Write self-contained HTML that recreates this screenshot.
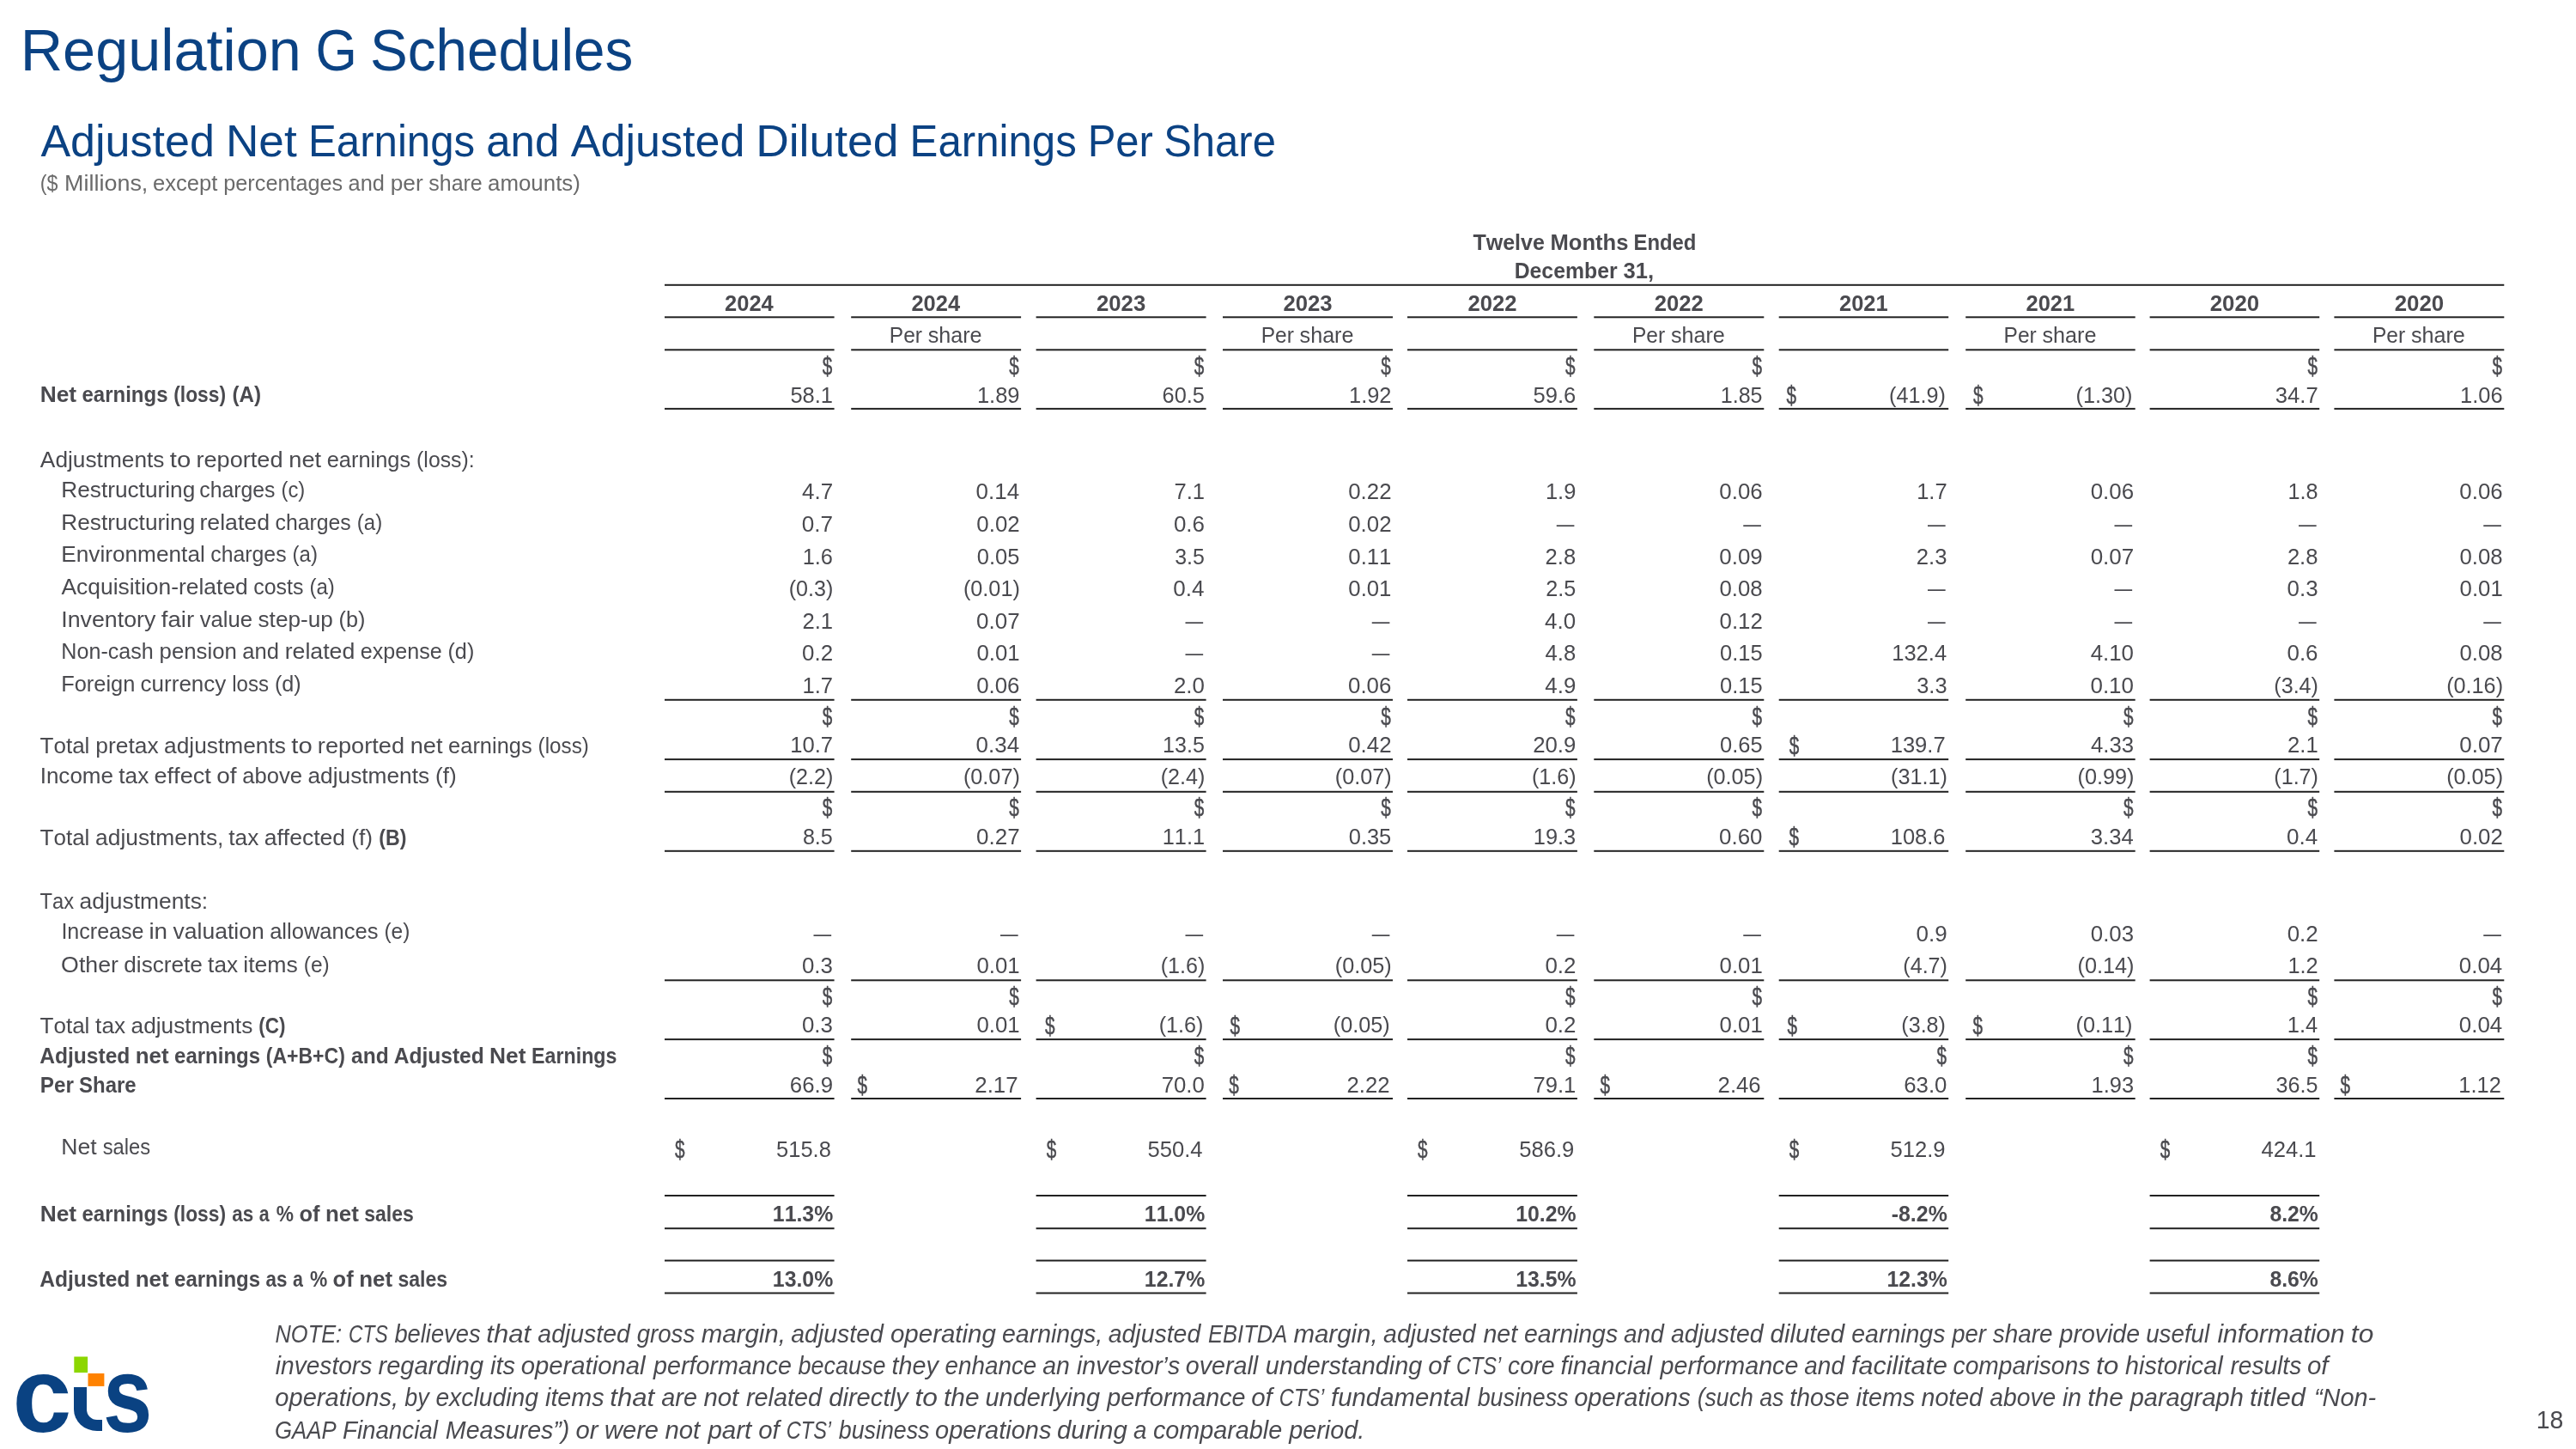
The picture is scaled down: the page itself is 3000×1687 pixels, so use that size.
<!DOCTYPE html>
<html><head><meta charset="utf-8"><title>Regulation G Schedules</title>
<style>
html,body{margin:0;padding:0;background:#fff;}
body{width:3000px;height:1687px;overflow:hidden;position:relative;}
svg{display:block;will-change:transform;}
svg text{font-family:"Liberation Sans",Arial,sans-serif;font-size:26.20px;fill:#4a4a4f;font-kerning:none;white-space:pre;}
</style></head>
<body>
<svg width="3000" height="1687" viewBox="0 0 3000 1687">
<rect width="3000" height="1687" fill="#ffffff"/>
<rect x="774.00" y="330.80" width="2142.30" height="2.00" fill="#222222"/>
<text y="290.70" style="font-weight:bold"><tspan x="1715.42" textLength="83.45" lengthAdjust="spacingAndGlyphs">Twelve</tspan> <tspan x="1805.43" textLength="91.00" lengthAdjust="spacingAndGlyphs">Months</tspan> <tspan x="1902.47" textLength="73.00" lengthAdjust="spacingAndGlyphs">Ended</tspan></text>
<text y="324.20" style="font-weight:bold"><tspan x="1763.67" textLength="119.97" lengthAdjust="spacingAndGlyphs">December</tspan> <tspan x="1890.50" textLength="35.47" lengthAdjust="spacingAndGlyphs">31,</tspan></text>
<text y="361.90" style="font-weight:bold"><tspan x="844.09" textLength="56.67" lengthAdjust="spacingAndGlyphs">2024</tspan></text>
<rect x="774.00" y="368.30" width="197.60" height="2.00" fill="#222222"/>
<rect x="774.00" y="406.30" width="197.60" height="2.00" fill="#222222"/>
<text y="361.90" style="font-weight:bold"><tspan x="1061.44" textLength="56.67" lengthAdjust="spacingAndGlyphs">2024</tspan></text>
<rect x="991.20" y="368.30" width="197.90" height="2.00" fill="#222222"/>
<text y="399.20"><tspan x="1035.79" textLength="38.18" lengthAdjust="spacingAndGlyphs">Per</tspan> <tspan x="1080.73" textLength="62.89" lengthAdjust="spacingAndGlyphs">share</tspan></text>
<rect x="991.20" y="406.30" width="197.90" height="2.00" fill="#222222"/>
<text y="361.90" style="font-weight:bold"><tspan x="1277.07" textLength="57.11" lengthAdjust="spacingAndGlyphs">2023</tspan></text>
<rect x="1206.60" y="368.30" width="198.00" height="2.00" fill="#222222"/>
<rect x="1206.60" y="406.30" width="198.00" height="2.00" fill="#222222"/>
<text y="361.90" style="font-weight:bold"><tspan x="1494.47" textLength="57.11" lengthAdjust="spacingAndGlyphs">2023</tspan></text>
<rect x="1424.00" y="368.30" width="198.00" height="2.00" fill="#222222"/>
<text y="399.20"><tspan x="1468.64" textLength="38.18" lengthAdjust="spacingAndGlyphs">Per</tspan> <tspan x="1513.58" textLength="62.89" lengthAdjust="spacingAndGlyphs">share</tspan></text>
<rect x="1424.00" y="406.30" width="198.00" height="2.00" fill="#222222"/>
<text y="361.90" style="font-weight:bold"><tspan x="1709.51" textLength="57.01" lengthAdjust="spacingAndGlyphs">2022</tspan></text>
<rect x="1639.00" y="368.30" width="197.90" height="2.00" fill="#222222"/>
<rect x="1639.00" y="406.30" width="197.90" height="2.00" fill="#222222"/>
<text y="361.90" style="font-weight:bold"><tspan x="1926.86" textLength="57.01" lengthAdjust="spacingAndGlyphs">2022</tspan></text>
<rect x="1856.30" y="368.30" width="198.00" height="2.00" fill="#222222"/>
<text y="399.20"><tspan x="1900.94" textLength="38.18" lengthAdjust="spacingAndGlyphs">Per</tspan> <tspan x="1945.88" textLength="62.89" lengthAdjust="spacingAndGlyphs">share</tspan></text>
<rect x="1856.30" y="406.30" width="198.00" height="2.00" fill="#222222"/>
<text y="361.90" style="font-weight:bold"><tspan x="2142.06" textLength="56.60" lengthAdjust="spacingAndGlyphs">2021</tspan></text>
<rect x="2071.70" y="368.30" width="197.50" height="2.00" fill="#222222"/>
<rect x="2071.70" y="406.30" width="197.50" height="2.00" fill="#222222"/>
<text y="361.90" style="font-weight:bold"><tspan x="2359.56" textLength="56.60" lengthAdjust="spacingAndGlyphs">2021</tspan></text>
<rect x="2289.20" y="368.30" width="197.50" height="2.00" fill="#222222"/>
<text y="399.20"><tspan x="2333.59" textLength="38.18" lengthAdjust="spacingAndGlyphs">Per</tspan> <tspan x="2378.53" textLength="62.89" lengthAdjust="spacingAndGlyphs">share</tspan></text>
<rect x="2289.20" y="406.30" width="197.50" height="2.00" fill="#222222"/>
<text y="361.90" style="font-weight:bold"><tspan x="2573.76" textLength="57.45" lengthAdjust="spacingAndGlyphs">2020</tspan></text>
<rect x="2503.60" y="368.30" width="197.60" height="2.00" fill="#222222"/>
<rect x="2503.60" y="406.30" width="197.60" height="2.00" fill="#222222"/>
<text y="361.90" style="font-weight:bold"><tspan x="2788.71" textLength="57.45" lengthAdjust="spacingAndGlyphs">2020</tspan></text>
<rect x="2718.40" y="368.30" width="197.90" height="2.00" fill="#222222"/>
<text y="399.20"><tspan x="2762.99" textLength="38.18" lengthAdjust="spacingAndGlyphs">Per</tspan> <tspan x="2807.93" textLength="62.89" lengthAdjust="spacingAndGlyphs">share</tspan></text>
<rect x="2718.40" y="406.30" width="197.90" height="2.00" fill="#222222"/>
<text y="468.30" style="font-weight:bold"><tspan x="46.71" textLength="42.43" lengthAdjust="spacingAndGlyphs">Net</tspan> <tspan x="95.52" textLength="100.03" lengthAdjust="spacingAndGlyphs">earnings</tspan> <tspan x="202.22" textLength="60.83" lengthAdjust="spacingAndGlyphs">(loss)</tspan> <tspan x="270.50" textLength="33.54" lengthAdjust="spacingAndGlyphs">(A)</tspan></text>
<text y="435.90" style="font-size:29.30px;stroke:#4a4a4f;stroke-width:0.45px"><tspan x="957.79" textLength="11.54" lengthAdjust="spacingAndGlyphs">$</tspan></text>
<text y="468.60"><tspan x="920.46" textLength="49.59" lengthAdjust="spacingAndGlyphs">58.1</tspan></text>
<text y="435.90" style="font-size:29.30px;stroke:#4a4a4f;stroke-width:0.45px"><tspan x="1175.29" textLength="11.54" lengthAdjust="spacingAndGlyphs">$</tspan></text>
<text y="468.60"><tspan x="1137.89" textLength="49.62" lengthAdjust="spacingAndGlyphs">1.89</tspan></text>
<text y="435.90" style="font-size:29.30px;stroke:#4a4a4f;stroke-width:0.45px"><tspan x="1390.79" textLength="11.54" lengthAdjust="spacingAndGlyphs">$</tspan></text>
<text y="468.60"><tspan x="1353.57" textLength="49.29" lengthAdjust="spacingAndGlyphs">60.5</tspan></text>
<text y="435.90" style="font-size:29.30px;stroke:#4a4a4f;stroke-width:0.45px"><tspan x="1608.19" textLength="11.54" lengthAdjust="spacingAndGlyphs">$</tspan></text>
<text y="468.60"><tspan x="1571.03" textLength="49.45" lengthAdjust="spacingAndGlyphs">1.92</tspan></text>
<text y="435.90" style="font-size:29.30px;stroke:#4a4a4f;stroke-width:0.45px"><tspan x="1823.09" textLength="11.54" lengthAdjust="spacingAndGlyphs">$</tspan></text>
<text y="468.60"><tspan x="1785.46" textLength="49.76" lengthAdjust="spacingAndGlyphs">59.6</tspan></text>
<text y="435.90" style="font-size:29.30px;stroke:#4a4a4f;stroke-width:0.45px"><tspan x="2040.49" textLength="11.54" lengthAdjust="spacingAndGlyphs">$</tspan></text>
<text y="468.60"><tspan x="2003.82" textLength="48.73" lengthAdjust="spacingAndGlyphs">1.85</tspan></text>
<text y="469.80" style="font-size:29.30px;stroke:#4a4a4f;stroke-width:0.45px"><tspan x="2080.38" textLength="11.54" lengthAdjust="spacingAndGlyphs">$</tspan></text>
<text y="468.60"><tspan x="2200.03" textLength="65.93" lengthAdjust="spacingAndGlyphs">(41.9)</tspan></text>
<text y="469.80" style="font-size:29.30px;stroke:#4a4a4f;stroke-width:0.45px"><tspan x="2297.88" textLength="11.54" lengthAdjust="spacingAndGlyphs">$</tspan></text>
<text y="468.60"><tspan x="2417.53" textLength="65.93" lengthAdjust="spacingAndGlyphs">(1.30)</tspan></text>
<text y="435.90" style="font-size:29.30px;stroke:#4a4a4f;stroke-width:0.45px"><tspan x="2687.39" textLength="11.54" lengthAdjust="spacingAndGlyphs">$</tspan></text>
<text y="468.60"><tspan x="2649.77" textLength="49.92" lengthAdjust="spacingAndGlyphs">34.7</tspan></text>
<text y="435.90" style="font-size:29.30px;stroke:#4a4a4f;stroke-width:0.45px"><tspan x="2902.49" textLength="11.54" lengthAdjust="spacingAndGlyphs">$</tspan></text>
<text y="468.60"><tspan x="2865.10" textLength="49.51" lengthAdjust="spacingAndGlyphs">1.06</tspan></text>
<rect x="774.00" y="474.90" width="197.60" height="2.00" fill="#222222"/>
<rect x="991.20" y="474.90" width="197.90" height="2.00" fill="#222222"/>
<rect x="1206.60" y="474.90" width="198.00" height="2.00" fill="#222222"/>
<rect x="1424.00" y="474.90" width="198.00" height="2.00" fill="#222222"/>
<rect x="1639.00" y="474.90" width="197.90" height="2.00" fill="#222222"/>
<rect x="1856.30" y="474.90" width="198.00" height="2.00" fill="#222222"/>
<rect x="2071.70" y="474.90" width="197.50" height="2.00" fill="#222222"/>
<rect x="2289.20" y="474.90" width="197.50" height="2.00" fill="#222222"/>
<rect x="2503.60" y="474.90" width="197.60" height="2.00" fill="#222222"/>
<rect x="2718.40" y="474.90" width="197.90" height="2.00" fill="#222222"/>
<text y="543.60"><tspan x="46.86" textLength="144.58" lengthAdjust="spacingAndGlyphs">Adjustments</tspan> <tspan x="197.82" textLength="24.43" lengthAdjust="spacingAndGlyphs">to</tspan> <tspan x="228.40" textLength="101.18" lengthAdjust="spacingAndGlyphs">reported</tspan> <tspan x="336.28" textLength="37.78" lengthAdjust="spacingAndGlyphs">net</tspan> <tspan x="380.67" textLength="97.54" lengthAdjust="spacingAndGlyphs">earnings</tspan> <tspan x="485.11" textLength="67.52" lengthAdjust="spacingAndGlyphs">(loss):</tspan></text>
<text y="578.90"><tspan x="71.27" textLength="155.96" lengthAdjust="spacingAndGlyphs">Restructuring</tspan> <tspan x="232.28" textLength="88.23" lengthAdjust="spacingAndGlyphs">charges</tspan> <tspan x="327.51" textLength="27.78" lengthAdjust="spacingAndGlyphs">(c)</tspan></text>
<text y="581.40"><tspan x="933.98" textLength="36.13" lengthAdjust="spacingAndGlyphs">4.7</tspan></text>
<text y="581.40"><tspan x="1136.62" textLength="50.44" lengthAdjust="spacingAndGlyphs">0.14</tspan></text>
<text y="581.40"><tspan x="1367.49" textLength="35.56" lengthAdjust="spacingAndGlyphs">7.1</tspan></text>
<text y="581.40"><tspan x="1570.25" textLength="50.25" lengthAdjust="spacingAndGlyphs">0.22</tspan></text>
<text y="581.40"><tspan x="1799.95" textLength="35.36" lengthAdjust="spacingAndGlyphs">1.9</tspan></text>
<text y="581.40"><tspan x="2002.33" textLength="50.31" lengthAdjust="spacingAndGlyphs">0.06</tspan></text>
<text y="581.40"><tspan x="2232.18" textLength="35.50" lengthAdjust="spacingAndGlyphs">1.7</tspan></text>
<text y="581.40"><tspan x="2434.73" textLength="50.31" lengthAdjust="spacingAndGlyphs">0.06</tspan></text>
<text y="581.40"><tspan x="2664.43" textLength="35.07" lengthAdjust="spacingAndGlyphs">1.8</tspan></text>
<text y="581.40"><tspan x="2864.33" textLength="50.31" lengthAdjust="spacingAndGlyphs">0.06</tspan></text>
<text y="616.55"><tspan x="71.27" textLength="155.96" lengthAdjust="spacingAndGlyphs">Restructuring</tspan> <tspan x="232.42" textLength="81.63" lengthAdjust="spacingAndGlyphs">related</tspan> <tspan x="320.56" textLength="88.23" lengthAdjust="spacingAndGlyphs">charges</tspan> <tspan x="415.77" textLength="29.39" lengthAdjust="spacingAndGlyphs">(a)</tspan></text>
<text y="619.00"><tspan x="933.80" textLength="36.31" lengthAdjust="spacingAndGlyphs">0.7</tspan></text>
<text y="619.00"><tspan x="1137.35" textLength="50.25" lengthAdjust="spacingAndGlyphs">0.02</tspan></text>
<text y="619.00"><tspan x="1366.88" textLength="36.06" lengthAdjust="spacingAndGlyphs">0.6</tspan></text>
<text y="619.00"><tspan x="1570.25" textLength="50.25" lengthAdjust="spacingAndGlyphs">0.02</tspan></text>
<text y="619.00"><tspan x="1812.75" textLength="20.65" lengthAdjust="spacingAndGlyphs">—</tspan></text>
<text y="619.00"><tspan x="2030.15" textLength="20.65" lengthAdjust="spacingAndGlyphs">—</tspan></text>
<text y="619.00"><tspan x="2245.05" textLength="20.65" lengthAdjust="spacingAndGlyphs">—</tspan></text>
<text y="619.00"><tspan x="2462.55" textLength="20.65" lengthAdjust="spacingAndGlyphs">—</tspan></text>
<text y="619.00"><tspan x="2677.05" textLength="20.65" lengthAdjust="spacingAndGlyphs">—</tspan></text>
<text y="619.00"><tspan x="2892.15" textLength="20.65" lengthAdjust="spacingAndGlyphs">—</tspan></text>
<text y="654.20"><tspan x="71.24" textLength="167.56" lengthAdjust="spacingAndGlyphs">Environmental</tspan> <tspan x="245.32" textLength="88.23" lengthAdjust="spacingAndGlyphs">charges</tspan> <tspan x="340.53" textLength="29.39" lengthAdjust="spacingAndGlyphs">(a)</tspan></text>
<text y="656.60"><tspan x="934.66" textLength="35.25" lengthAdjust="spacingAndGlyphs">1.6</tspan></text>
<text y="656.60"><tspan x="1137.83" textLength="49.54" lengthAdjust="spacingAndGlyphs">0.05</tspan></text>
<text y="656.60"><tspan x="1368.21" textLength="34.64" lengthAdjust="spacingAndGlyphs">3.5</tspan></text>
<text y="656.60"><tspan x="1570.32" textLength="50.14" lengthAdjust="spacingAndGlyphs">0.11</tspan></text>
<text y="656.60"><tspan x="1799.59" textLength="35.62" lengthAdjust="spacingAndGlyphs">2.8</tspan></text>
<text y="656.60"><tspan x="2002.31" textLength="50.41" lengthAdjust="spacingAndGlyphs">0.09</tspan></text>
<text y="656.60"><tspan x="2231.83" textLength="35.69" lengthAdjust="spacingAndGlyphs">2.3</tspan></text>
<text y="656.60"><tspan x="2434.66" textLength="50.55" lengthAdjust="spacingAndGlyphs">0.07</tspan></text>
<text y="656.60"><tspan x="2663.89" textLength="35.62" lengthAdjust="spacingAndGlyphs">2.8</tspan></text>
<text y="656.60"><tspan x="2864.48" textLength="50.14" lengthAdjust="spacingAndGlyphs">0.08</tspan></text>
<text y="691.85"><tspan x="71.46" textLength="217.31" lengthAdjust="spacingAndGlyphs">Acquisition-related</tspan> <tspan x="295.29" textLength="58.21" lengthAdjust="spacingAndGlyphs">costs</tspan> <tspan x="360.47" textLength="29.39" lengthAdjust="spacingAndGlyphs">(a)</tspan></text>
<text y="694.20"><tspan x="918.70" textLength="51.66" lengthAdjust="spacingAndGlyphs">(0.3)</tspan></text>
<text y="694.20"><tspan x="1121.93" textLength="65.93" lengthAdjust="spacingAndGlyphs">(0.01)</tspan></text>
<text y="694.20"><tspan x="1366.37" textLength="36.19" lengthAdjust="spacingAndGlyphs">0.4</tspan></text>
<text y="694.20"><tspan x="1570.32" textLength="50.14" lengthAdjust="spacingAndGlyphs">0.01</tspan></text>
<text y="694.20"><tspan x="1800.15" textLength="35.01" lengthAdjust="spacingAndGlyphs">2.5</tspan></text>
<text y="694.20"><tspan x="2002.48" textLength="50.14" lengthAdjust="spacingAndGlyphs">0.08</tspan></text>
<text y="694.20"><tspan x="2245.05" textLength="20.65" lengthAdjust="spacingAndGlyphs">—</tspan></text>
<text y="694.20"><tspan x="2462.55" textLength="20.65" lengthAdjust="spacingAndGlyphs">—</tspan></text>
<text y="694.20"><tspan x="2663.58" textLength="35.96" lengthAdjust="spacingAndGlyphs">0.3</tspan></text>
<text y="694.20"><tspan x="2864.62" textLength="50.14" lengthAdjust="spacingAndGlyphs">0.01</tspan></text>
<text y="729.50"><tspan x="71.22" textLength="110.16" lengthAdjust="spacingAndGlyphs">Inventory</tspan> <tspan x="187.82" textLength="38.28" lengthAdjust="spacingAndGlyphs">fair</tspan> <tspan x="232.73" textLength="61.35" lengthAdjust="spacingAndGlyphs">value</tspan> <tspan x="300.55" textLength="87.20" lengthAdjust="spacingAndGlyphs">step-up</tspan> <tspan x="394.52" textLength="30.84" lengthAdjust="spacingAndGlyphs">(b)</tspan></text>
<text y="731.80"><tspan x="934.43" textLength="35.62" lengthAdjust="spacingAndGlyphs">2.1</tspan></text>
<text y="731.80"><tspan x="1137.06" textLength="50.55" lengthAdjust="spacingAndGlyphs">0.07</tspan></text>
<text y="731.80"><tspan x="1380.45" textLength="20.65" lengthAdjust="spacingAndGlyphs">—</tspan></text>
<text y="731.80"><tspan x="1597.85" textLength="20.65" lengthAdjust="spacingAndGlyphs">—</tspan></text>
<text y="731.80"><tspan x="1799.10" textLength="36.01" lengthAdjust="spacingAndGlyphs">4.0</tspan></text>
<text y="731.80"><tspan x="2002.55" textLength="50.25" lengthAdjust="spacingAndGlyphs">0.12</tspan></text>
<text y="731.80"><tspan x="2245.05" textLength="20.65" lengthAdjust="spacingAndGlyphs">—</tspan></text>
<text y="731.80"><tspan x="2462.55" textLength="20.65" lengthAdjust="spacingAndGlyphs">—</tspan></text>
<text y="731.80"><tspan x="2677.05" textLength="20.65" lengthAdjust="spacingAndGlyphs">—</tspan></text>
<text y="731.80"><tspan x="2892.15" textLength="20.65" lengthAdjust="spacingAndGlyphs">—</tspan></text>
<text y="767.15"><tspan x="71.37" textLength="107.46" lengthAdjust="spacingAndGlyphs">Non-cash</tspan> <tspan x="185.55" textLength="90.29" lengthAdjust="spacingAndGlyphs">pension</tspan> <tspan x="282.31" textLength="42.63" lengthAdjust="spacingAndGlyphs">and</tspan> <tspan x="331.65" textLength="81.63" lengthAdjust="spacingAndGlyphs">related</tspan> <tspan x="419.86" textLength="94.85" lengthAdjust="spacingAndGlyphs">expense</tspan> <tspan x="521.47" textLength="30.84" lengthAdjust="spacingAndGlyphs">(d)</tspan></text>
<text y="769.40"><tspan x="934.10" textLength="36.00" lengthAdjust="spacingAndGlyphs">0.2</tspan></text>
<text y="769.40"><tspan x="1137.42" textLength="50.14" lengthAdjust="spacingAndGlyphs">0.01</tspan></text>
<text y="769.40"><tspan x="1380.45" textLength="20.65" lengthAdjust="spacingAndGlyphs">—</tspan></text>
<text y="769.40"><tspan x="1597.85" textLength="20.65" lengthAdjust="spacingAndGlyphs">—</tspan></text>
<text y="769.40"><tspan x="1799.51" textLength="35.71" lengthAdjust="spacingAndGlyphs">4.8</tspan></text>
<text y="769.40"><tspan x="2003.03" textLength="49.54" lengthAdjust="spacingAndGlyphs">0.15</tspan></text>
<text y="769.40"><tspan x="2203.23" textLength="63.92" lengthAdjust="spacingAndGlyphs">132.4</tspan></text>
<text y="769.40"><tspan x="2434.65" textLength="50.26" lengthAdjust="spacingAndGlyphs">4.10</tspan></text>
<text y="769.40"><tspan x="2663.48" textLength="36.06" lengthAdjust="spacingAndGlyphs">0.6</tspan></text>
<text y="769.40"><tspan x="2864.48" textLength="50.14" lengthAdjust="spacingAndGlyphs">0.08</tspan></text>
<text y="804.80"><tspan x="71.21" textLength="86.15" lengthAdjust="spacingAndGlyphs">Foreign</tspan> <tspan x="163.62" textLength="99.69" lengthAdjust="spacingAndGlyphs">currency</tspan> <tspan x="270.21" textLength="42.81" lengthAdjust="spacingAndGlyphs">loss</tspan> <tspan x="319.95" textLength="30.84" lengthAdjust="spacingAndGlyphs">(d)</tspan></text>
<text y="807.00"><tspan x="934.58" textLength="35.50" lengthAdjust="spacingAndGlyphs">1.7</tspan></text>
<text y="807.00"><tspan x="1137.13" textLength="50.31" lengthAdjust="spacingAndGlyphs">0.06</tspan></text>
<text y="807.00"><tspan x="1366.88" textLength="35.93" lengthAdjust="spacingAndGlyphs">2.0</tspan></text>
<text y="807.00"><tspan x="1570.03" textLength="50.31" lengthAdjust="spacingAndGlyphs">0.06</tspan></text>
<text y="807.00"><tspan x="1799.34" textLength="35.99" lengthAdjust="spacingAndGlyphs">4.9</tspan></text>
<text y="807.00"><tspan x="2003.03" textLength="49.54" lengthAdjust="spacingAndGlyphs">0.15</tspan></text>
<text y="807.00"><tspan x="2232.20" textLength="35.32" lengthAdjust="spacingAndGlyphs">3.3</tspan></text>
<text y="807.00"><tspan x="2434.48" textLength="50.43" lengthAdjust="spacingAndGlyphs">0.10</tspan></text>
<text y="807.00"><tspan x="2648.30" textLength="51.66" lengthAdjust="spacingAndGlyphs">(3.4)</tspan></text>
<text y="807.00"><tspan x="2849.13" textLength="65.93" lengthAdjust="spacingAndGlyphs">(0.16)</tspan></text>
<rect x="774.00" y="813.80" width="197.60" height="2.00" fill="#222222"/>
<rect x="991.20" y="813.80" width="197.90" height="2.00" fill="#222222"/>
<rect x="1206.60" y="813.80" width="198.00" height="2.00" fill="#222222"/>
<rect x="1424.00" y="813.80" width="198.00" height="2.00" fill="#222222"/>
<rect x="1639.00" y="813.80" width="197.90" height="2.00" fill="#222222"/>
<rect x="1856.30" y="813.80" width="198.00" height="2.00" fill="#222222"/>
<rect x="2071.70" y="813.80" width="197.50" height="2.00" fill="#222222"/>
<rect x="2289.20" y="813.80" width="197.50" height="2.00" fill="#222222"/>
<rect x="2503.60" y="813.80" width="197.60" height="2.00" fill="#222222"/>
<rect x="2718.40" y="813.80" width="197.90" height="2.00" fill="#222222"/>
<text y="876.50"><tspan x="46.55" textLength="57.86" lengthAdjust="spacingAndGlyphs">Total</tspan> <tspan x="111.28" textLength="73.38" lengthAdjust="spacingAndGlyphs">pretax</tspan> <tspan x="191.09" textLength="141.80" lengthAdjust="spacingAndGlyphs">adjustments</tspan> <tspan x="339.27" textLength="24.43" lengthAdjust="spacingAndGlyphs">to</tspan> <tspan x="369.85" textLength="101.18" lengthAdjust="spacingAndGlyphs">reported</tspan> <tspan x="477.73" textLength="37.78" lengthAdjust="spacingAndGlyphs">net</tspan> <tspan x="522.11" textLength="97.54" lengthAdjust="spacingAndGlyphs">earnings</tspan> <tspan x="626.60" textLength="59.23" lengthAdjust="spacingAndGlyphs">(loss)</tspan></text>
<text y="843.70" style="font-size:29.30px;stroke:#4a4a4f;stroke-width:0.45px"><tspan x="957.79" textLength="11.54" lengthAdjust="spacingAndGlyphs">$</tspan></text>
<text y="876.40"><tspan x="920.33" textLength="49.76" lengthAdjust="spacingAndGlyphs">10.7</tspan></text>
<text y="843.70" style="font-size:29.30px;stroke:#4a4a4f;stroke-width:0.45px"><tspan x="1175.29" textLength="11.54" lengthAdjust="spacingAndGlyphs">$</tspan></text>
<text y="876.40"><tspan x="1136.62" textLength="50.44" lengthAdjust="spacingAndGlyphs">0.34</tspan></text>
<text y="843.70" style="font-size:29.30px;stroke:#4a4a4f;stroke-width:0.45px"><tspan x="1390.79" textLength="11.54" lengthAdjust="spacingAndGlyphs">$</tspan></text>
<text y="876.40"><tspan x="1354.12" textLength="48.73" lengthAdjust="spacingAndGlyphs">13.5</tspan></text>
<text y="843.70" style="font-size:29.30px;stroke:#4a4a4f;stroke-width:0.45px"><tspan x="1608.19" textLength="11.54" lengthAdjust="spacingAndGlyphs">$</tspan></text>
<text y="876.40"><tspan x="1570.25" textLength="50.25" lengthAdjust="spacingAndGlyphs">0.42</tspan></text>
<text y="843.70" style="font-size:29.30px;stroke:#4a4a4f;stroke-width:0.45px"><tspan x="1823.09" textLength="11.54" lengthAdjust="spacingAndGlyphs">$</tspan></text>
<text y="876.40"><tspan x="1785.16" textLength="50.16" lengthAdjust="spacingAndGlyphs">20.9</tspan></text>
<text y="843.70" style="font-size:29.30px;stroke:#4a4a4f;stroke-width:0.45px"><tspan x="2040.49" textLength="11.54" lengthAdjust="spacingAndGlyphs">$</tspan></text>
<text y="876.40"><tspan x="2003.03" textLength="49.54" lengthAdjust="spacingAndGlyphs">0.65</tspan></text>
<text y="877.60" style="font-size:29.30px;stroke:#4a4a4f;stroke-width:0.45px"><tspan x="2083.68" textLength="11.54" lengthAdjust="spacingAndGlyphs">$</tspan></text>
<text y="876.40"><tspan x="2201.67" textLength="64.02" lengthAdjust="spacingAndGlyphs">139.7</tspan></text>
<text y="843.70" style="font-size:29.30px;stroke:#4a4a4f;stroke-width:0.45px"><tspan x="2472.89" textLength="11.54" lengthAdjust="spacingAndGlyphs">$</tspan></text>
<text y="876.40"><tspan x="2435.00" textLength="50.03" lengthAdjust="spacingAndGlyphs">4.33</tspan></text>
<text y="843.70" style="font-size:29.30px;stroke:#4a4a4f;stroke-width:0.45px"><tspan x="2687.39" textLength="11.54" lengthAdjust="spacingAndGlyphs">$</tspan></text>
<text y="876.40"><tspan x="2664.03" textLength="35.62" lengthAdjust="spacingAndGlyphs">2.1</tspan></text>
<text y="843.70" style="font-size:29.30px;stroke:#4a4a4f;stroke-width:0.45px"><tspan x="2902.49" textLength="11.54" lengthAdjust="spacingAndGlyphs">$</tspan></text>
<text y="876.40"><tspan x="2864.26" textLength="50.55" lengthAdjust="spacingAndGlyphs">0.07</tspan></text>
<rect x="774.00" y="883.10" width="197.60" height="2.00" fill="#222222"/>
<rect x="991.20" y="883.10" width="197.90" height="2.00" fill="#222222"/>
<rect x="1206.60" y="883.10" width="198.00" height="2.00" fill="#222222"/>
<rect x="1424.00" y="883.10" width="198.00" height="2.00" fill="#222222"/>
<rect x="1639.00" y="883.10" width="197.90" height="2.00" fill="#222222"/>
<rect x="1856.30" y="883.10" width="198.00" height="2.00" fill="#222222"/>
<rect x="2071.70" y="883.10" width="197.50" height="2.00" fill="#222222"/>
<rect x="2289.20" y="883.10" width="197.50" height="2.00" fill="#222222"/>
<rect x="2503.60" y="883.10" width="197.60" height="2.00" fill="#222222"/>
<rect x="2718.40" y="883.10" width="197.90" height="2.00" fill="#222222"/>
<text y="911.90"><tspan x="46.69" textLength="85.29" lengthAdjust="spacingAndGlyphs">Income</tspan> <tspan x="138.28" textLength="34.97" lengthAdjust="spacingAndGlyphs">tax</tspan> <tspan x="179.52" textLength="66.29" lengthAdjust="spacingAndGlyphs">effect</tspan> <tspan x="252.32" textLength="23.33" lengthAdjust="spacingAndGlyphs">of</tspan> <tspan x="282.30" textLength="69.83" lengthAdjust="spacingAndGlyphs">above</tspan> <tspan x="358.41" textLength="141.80" lengthAdjust="spacingAndGlyphs">adjustments</tspan> <tspan x="507.00" textLength="24.77" lengthAdjust="spacingAndGlyphs">(f)</tspan></text>
<text y="913.30"><tspan x="918.70" textLength="51.66" lengthAdjust="spacingAndGlyphs">(2.2)</tspan></text>
<text y="913.30"><tspan x="1121.93" textLength="65.93" lengthAdjust="spacingAndGlyphs">(0.07)</tspan></text>
<text y="913.30"><tspan x="1351.70" textLength="51.66" lengthAdjust="spacingAndGlyphs">(2.4)</tspan></text>
<text y="913.30"><tspan x="1554.83" textLength="65.93" lengthAdjust="spacingAndGlyphs">(0.07)</tspan></text>
<text y="913.30"><tspan x="1784.00" textLength="51.66" lengthAdjust="spacingAndGlyphs">(1.6)</tspan></text>
<text y="913.30"><tspan x="1987.13" textLength="65.93" lengthAdjust="spacingAndGlyphs">(0.05)</tspan></text>
<text y="913.30"><tspan x="2202.03" textLength="65.93" lengthAdjust="spacingAndGlyphs">(31.1)</tspan></text>
<text y="913.30"><tspan x="2419.53" textLength="65.93" lengthAdjust="spacingAndGlyphs">(0.99)</tspan></text>
<text y="913.30"><tspan x="2648.30" textLength="51.66" lengthAdjust="spacingAndGlyphs">(1.7)</tspan></text>
<text y="913.30"><tspan x="2849.13" textLength="65.93" lengthAdjust="spacingAndGlyphs">(0.05)</tspan></text>
<rect x="774.00" y="920.80" width="197.60" height="2.00" fill="#222222"/>
<rect x="991.20" y="920.80" width="197.90" height="2.00" fill="#222222"/>
<rect x="1206.60" y="920.80" width="198.00" height="2.00" fill="#222222"/>
<rect x="1424.00" y="920.80" width="198.00" height="2.00" fill="#222222"/>
<rect x="1639.00" y="920.80" width="197.90" height="2.00" fill="#222222"/>
<rect x="1856.30" y="920.80" width="198.00" height="2.00" fill="#222222"/>
<rect x="2071.70" y="920.80" width="197.50" height="2.00" fill="#222222"/>
<rect x="2289.20" y="920.80" width="197.50" height="2.00" fill="#222222"/>
<rect x="2503.60" y="920.80" width="197.60" height="2.00" fill="#222222"/>
<rect x="2718.40" y="920.80" width="197.90" height="2.00" fill="#222222"/>
<text y="983.60"><tspan x="46.55" textLength="57.86" lengthAdjust="spacingAndGlyphs">Total</tspan> <tspan x="111.08" textLength="149.33" lengthAdjust="spacingAndGlyphs">adjustments,</tspan> <tspan x="266.32" textLength="34.97" lengthAdjust="spacingAndGlyphs">tax</tspan> <tspan x="307.71" textLength="94.42" lengthAdjust="spacingAndGlyphs">affected</tspan> <tspan x="409.19" textLength="24.77" lengthAdjust="spacingAndGlyphs">(f)</tspan> <tspan x="441.32" textLength="32.16" lengthAdjust="spacingAndGlyphs" style="font-weight:bold">(B)</tspan></text>
<text y="949.90" style="font-size:29.30px;stroke:#4a4a4f;stroke-width:0.45px"><tspan x="957.79" textLength="11.54" lengthAdjust="spacingAndGlyphs">$</tspan></text>
<text y="982.60"><tspan x="934.89" textLength="34.97" lengthAdjust="spacingAndGlyphs">8.5</tspan></text>
<text y="949.90" style="font-size:29.30px;stroke:#4a4a4f;stroke-width:0.45px"><tspan x="1175.29" textLength="11.54" lengthAdjust="spacingAndGlyphs">$</tspan></text>
<text y="982.60"><tspan x="1137.06" textLength="50.55" lengthAdjust="spacingAndGlyphs">0.27</tspan></text>
<text y="949.90" style="font-size:29.30px;stroke:#4a4a4f;stroke-width:0.45px"><tspan x="1390.79" textLength="11.54" lengthAdjust="spacingAndGlyphs">$</tspan></text>
<text y="982.60"><tspan x="1353.70" textLength="49.34" lengthAdjust="spacingAndGlyphs">11.1</tspan></text>
<text y="949.90" style="font-size:29.30px;stroke:#4a4a4f;stroke-width:0.45px"><tspan x="1608.19" textLength="11.54" lengthAdjust="spacingAndGlyphs">$</tspan></text>
<text y="982.60"><tspan x="1570.73" textLength="49.54" lengthAdjust="spacingAndGlyphs">0.35</tspan></text>
<text y="949.90" style="font-size:29.30px;stroke:#4a4a4f;stroke-width:0.45px"><tspan x="1823.09" textLength="11.54" lengthAdjust="spacingAndGlyphs">$</tspan></text>
<text y="982.60"><tspan x="1785.80" textLength="49.41" lengthAdjust="spacingAndGlyphs">19.3</tspan></text>
<text y="949.90" style="font-size:29.30px;stroke:#4a4a4f;stroke-width:0.45px"><tspan x="2040.49" textLength="11.54" lengthAdjust="spacingAndGlyphs">$</tspan></text>
<text y="982.60"><tspan x="2002.08" textLength="50.43" lengthAdjust="spacingAndGlyphs">0.60</tspan></text>
<text y="983.80" style="font-size:29.30px;stroke:#4a4a4f;stroke-width:0.45px"><tspan x="2083.58" textLength="11.54" lengthAdjust="spacingAndGlyphs">$</tspan></text>
<text y="982.60"><tspan x="2201.75" textLength="63.77" lengthAdjust="spacingAndGlyphs">108.6</tspan></text>
<text y="949.90" style="font-size:29.30px;stroke:#4a4a4f;stroke-width:0.45px"><tspan x="2472.89" textLength="11.54" lengthAdjust="spacingAndGlyphs">$</tspan></text>
<text y="982.60"><tspan x="2434.83" textLength="49.82" lengthAdjust="spacingAndGlyphs">3.34</tspan></text>
<text y="949.90" style="font-size:29.30px;stroke:#4a4a4f;stroke-width:0.45px"><tspan x="2687.39" textLength="11.54" lengthAdjust="spacingAndGlyphs">$</tspan></text>
<text y="982.60"><tspan x="2662.97" textLength="36.19" lengthAdjust="spacingAndGlyphs">0.4</tspan></text>
<text y="949.90" style="font-size:29.30px;stroke:#4a4a4f;stroke-width:0.45px"><tspan x="2902.49" textLength="11.54" lengthAdjust="spacingAndGlyphs">$</tspan></text>
<text y="982.60"><tspan x="2864.55" textLength="50.25" lengthAdjust="spacingAndGlyphs">0.02</tspan></text>
<rect x="774.00" y="989.80" width="197.60" height="2.00" fill="#222222"/>
<rect x="991.20" y="989.80" width="197.90" height="2.00" fill="#222222"/>
<rect x="1206.60" y="989.80" width="198.00" height="2.00" fill="#222222"/>
<rect x="1424.00" y="989.80" width="198.00" height="2.00" fill="#222222"/>
<rect x="1639.00" y="989.80" width="197.90" height="2.00" fill="#222222"/>
<rect x="1856.30" y="989.80" width="198.00" height="2.00" fill="#222222"/>
<rect x="2071.70" y="989.80" width="197.50" height="2.00" fill="#222222"/>
<rect x="2289.20" y="989.80" width="197.50" height="2.00" fill="#222222"/>
<rect x="2503.60" y="989.80" width="197.60" height="2.00" fill="#222222"/>
<rect x="2718.40" y="989.80" width="197.90" height="2.00" fill="#222222"/>
<text y="1057.90"><tspan x="46.60" textLength="39.50" lengthAdjust="spacingAndGlyphs">Tax</tspan> <tspan x="92.55" textLength="149.65" lengthAdjust="spacingAndGlyphs">adjustments:</tspan></text>
<text y="1093.30"><tspan x="71.38" textLength="96.14" lengthAdjust="spacingAndGlyphs">Increase</tspan> <tspan x="173.43" textLength="21.68" lengthAdjust="spacingAndGlyphs">in</tspan> <tspan x="201.54" textLength="106.20" lengthAdjust="spacingAndGlyphs">valuation</tspan> <tspan x="314.16" textLength="126.36" lengthAdjust="spacingAndGlyphs">allowances</tspan> <tspan x="447.44" textLength="29.97" lengthAdjust="spacingAndGlyphs">(e)</tspan></text>
<text y="1095.60"><tspan x="947.45" textLength="20.65" lengthAdjust="spacingAndGlyphs">—</tspan></text>
<text y="1095.60"><tspan x="1164.95" textLength="20.65" lengthAdjust="spacingAndGlyphs">—</tspan></text>
<text y="1095.60"><tspan x="1380.45" textLength="20.65" lengthAdjust="spacingAndGlyphs">—</tspan></text>
<text y="1095.60"><tspan x="1597.85" textLength="20.65" lengthAdjust="spacingAndGlyphs">—</tspan></text>
<text y="1095.60"><tspan x="1812.75" textLength="20.65" lengthAdjust="spacingAndGlyphs">—</tspan></text>
<text y="1095.60"><tspan x="2030.15" textLength="20.65" lengthAdjust="spacingAndGlyphs">—</tspan></text>
<text y="1095.60"><tspan x="2231.46" textLength="36.17" lengthAdjust="spacingAndGlyphs">0.9</tspan></text>
<text y="1095.60"><tspan x="2434.83" textLength="50.21" lengthAdjust="spacingAndGlyphs">0.03</tspan></text>
<text y="1095.60"><tspan x="2663.70" textLength="36.00" lengthAdjust="spacingAndGlyphs">0.2</tspan></text>
<text y="1095.60"><tspan x="2892.15" textLength="20.65" lengthAdjust="spacingAndGlyphs">—</tspan></text>
<text y="1131.50"><tspan x="71.12" textLength="66.79" lengthAdjust="spacingAndGlyphs">Other</tspan> <tspan x="144.29" textLength="91.57" lengthAdjust="spacingAndGlyphs">discrete</tspan> <tspan x="242.14" textLength="34.97" lengthAdjust="spacingAndGlyphs">tax</tspan> <tspan x="283.23" textLength="63.62" lengthAdjust="spacingAndGlyphs">items</tspan> <tspan x="353.74" textLength="29.97" lengthAdjust="spacingAndGlyphs">(e)</tspan></text>
<text y="1133.30"><tspan x="933.98" textLength="35.96" lengthAdjust="spacingAndGlyphs">0.3</tspan></text>
<text y="1133.30"><tspan x="1137.42" textLength="50.14" lengthAdjust="spacingAndGlyphs">0.01</tspan></text>
<text y="1133.30"><tspan x="1351.70" textLength="51.66" lengthAdjust="spacingAndGlyphs">(1.6)</tspan></text>
<text y="1133.30"><tspan x="1554.83" textLength="65.93" lengthAdjust="spacingAndGlyphs">(0.05)</tspan></text>
<text y="1133.30"><tspan x="1799.40" textLength="36.00" lengthAdjust="spacingAndGlyphs">0.2</tspan></text>
<text y="1133.30"><tspan x="2002.62" textLength="50.14" lengthAdjust="spacingAndGlyphs">0.01</tspan></text>
<text y="1133.30"><tspan x="2216.30" textLength="51.66" lengthAdjust="spacingAndGlyphs">(4.7)</tspan></text>
<text y="1133.30"><tspan x="2419.53" textLength="65.93" lengthAdjust="spacingAndGlyphs">(0.14)</tspan></text>
<text y="1133.30"><tspan x="2664.49" textLength="35.18" lengthAdjust="spacingAndGlyphs">1.2</tspan></text>
<text y="1133.30"><tspan x="2863.82" textLength="50.44" lengthAdjust="spacingAndGlyphs">0.04</tspan></text>
<rect x="774.00" y="1140.30" width="197.60" height="2.00" fill="#222222"/>
<rect x="991.20" y="1140.30" width="197.90" height="2.00" fill="#222222"/>
<rect x="1206.60" y="1140.30" width="198.00" height="2.00" fill="#222222"/>
<rect x="1424.00" y="1140.30" width="198.00" height="2.00" fill="#222222"/>
<rect x="1639.00" y="1140.30" width="197.90" height="2.00" fill="#222222"/>
<rect x="1856.30" y="1140.30" width="198.00" height="2.00" fill="#222222"/>
<rect x="2071.70" y="1140.30" width="197.50" height="2.00" fill="#222222"/>
<rect x="2289.20" y="1140.30" width="197.50" height="2.00" fill="#222222"/>
<rect x="2503.60" y="1140.30" width="197.60" height="2.00" fill="#222222"/>
<rect x="2718.40" y="1140.30" width="197.90" height="2.00" fill="#222222"/>
<text y="1202.80"><tspan x="46.55" textLength="57.86" lengthAdjust="spacingAndGlyphs">Total</tspan> <tspan x="111.11" textLength="34.97" lengthAdjust="spacingAndGlyphs">tax</tspan> <tspan x="152.51" textLength="141.80" lengthAdjust="spacingAndGlyphs">adjustments</tspan> <tspan x="301.26" textLength="31.22" lengthAdjust="spacingAndGlyphs" style="font-weight:bold">(C)</tspan></text>
<text y="1169.60" style="font-size:29.30px;stroke:#4a4a4f;stroke-width:0.45px"><tspan x="957.79" textLength="11.54" lengthAdjust="spacingAndGlyphs">$</tspan></text>
<text y="1202.30"><tspan x="933.98" textLength="35.96" lengthAdjust="spacingAndGlyphs">0.3</tspan></text>
<text y="1169.60" style="font-size:29.30px;stroke:#4a4a4f;stroke-width:0.45px"><tspan x="1175.29" textLength="11.54" lengthAdjust="spacingAndGlyphs">$</tspan></text>
<text y="1202.30"><tspan x="1137.42" textLength="50.14" lengthAdjust="spacingAndGlyphs">0.01</tspan></text>
<text y="1203.50" style="font-size:29.30px;stroke:#4a4a4f;stroke-width:0.45px"><tspan x="1216.88" textLength="11.54" lengthAdjust="spacingAndGlyphs">$</tspan></text>
<text y="1202.30"><tspan x="1349.70" textLength="51.66" lengthAdjust="spacingAndGlyphs">(1.6)</tspan></text>
<text y="1203.50" style="font-size:29.30px;stroke:#4a4a4f;stroke-width:0.45px"><tspan x="1432.38" textLength="11.54" lengthAdjust="spacingAndGlyphs">$</tspan></text>
<text y="1202.30"><tspan x="1552.83" textLength="65.93" lengthAdjust="spacingAndGlyphs">(0.05)</tspan></text>
<text y="1169.60" style="font-size:29.30px;stroke:#4a4a4f;stroke-width:0.45px"><tspan x="1823.09" textLength="11.54" lengthAdjust="spacingAndGlyphs">$</tspan></text>
<text y="1202.30"><tspan x="1799.40" textLength="36.00" lengthAdjust="spacingAndGlyphs">0.2</tspan></text>
<text y="1169.60" style="font-size:29.30px;stroke:#4a4a4f;stroke-width:0.45px"><tspan x="2040.49" textLength="11.54" lengthAdjust="spacingAndGlyphs">$</tspan></text>
<text y="1202.30"><tspan x="2002.62" textLength="50.14" lengthAdjust="spacingAndGlyphs">0.01</tspan></text>
<text y="1203.50" style="font-size:29.30px;stroke:#4a4a4f;stroke-width:0.45px"><tspan x="2081.48" textLength="11.54" lengthAdjust="spacingAndGlyphs">$</tspan></text>
<text y="1202.30"><tspan x="2214.30" textLength="51.66" lengthAdjust="spacingAndGlyphs">(3.8)</tspan></text>
<text y="1203.50" style="font-size:29.30px;stroke:#4a4a4f;stroke-width:0.45px"><tspan x="2297.58" textLength="11.54" lengthAdjust="spacingAndGlyphs">$</tspan></text>
<text y="1202.30"><tspan x="2417.53" textLength="65.93" lengthAdjust="spacingAndGlyphs">(0.11)</tspan></text>
<text y="1169.60" style="font-size:29.30px;stroke:#4a4a4f;stroke-width:0.45px"><tspan x="2687.39" textLength="11.54" lengthAdjust="spacingAndGlyphs">$</tspan></text>
<text y="1202.30"><tspan x="2663.75" textLength="35.40" lengthAdjust="spacingAndGlyphs">1.4</tspan></text>
<text y="1169.60" style="font-size:29.30px;stroke:#4a4a4f;stroke-width:0.45px"><tspan x="2902.49" textLength="11.54" lengthAdjust="spacingAndGlyphs">$</tspan></text>
<text y="1202.30"><tspan x="2863.82" textLength="50.44" lengthAdjust="spacingAndGlyphs">0.04</tspan></text>
<rect x="774.00" y="1209.10" width="197.60" height="2.00" fill="#222222"/>
<rect x="991.20" y="1209.10" width="197.90" height="2.00" fill="#222222"/>
<rect x="1206.60" y="1209.10" width="198.00" height="2.00" fill="#222222"/>
<rect x="1424.00" y="1209.10" width="198.00" height="2.00" fill="#222222"/>
<rect x="1639.00" y="1209.10" width="197.90" height="2.00" fill="#222222"/>
<rect x="1856.30" y="1209.10" width="198.00" height="2.00" fill="#222222"/>
<rect x="2071.70" y="1209.10" width="197.50" height="2.00" fill="#222222"/>
<rect x="2289.20" y="1209.10" width="197.50" height="2.00" fill="#222222"/>
<rect x="2503.60" y="1209.10" width="197.60" height="2.00" fill="#222222"/>
<rect x="2718.40" y="1209.10" width="197.90" height="2.00" fill="#222222"/>
<text y="1237.80" style="font-weight:bold"><tspan x="46.24" textLength="105.10" lengthAdjust="spacingAndGlyphs">Adjusted</tspan> <tspan x="157.78" textLength="38.91" lengthAdjust="spacingAndGlyphs">net</tspan> <tspan x="203.08" textLength="100.03" lengthAdjust="spacingAndGlyphs">earnings</tspan> <tspan x="309.76" textLength="92.09" lengthAdjust="spacingAndGlyphs">(A+B+C)</tspan> <tspan x="409.07" textLength="43.70" lengthAdjust="spacingAndGlyphs">and</tspan> <tspan x="458.66" textLength="105.10" lengthAdjust="spacingAndGlyphs">Adjusted</tspan> <tspan x="570.12" textLength="42.43" lengthAdjust="spacingAndGlyphs">Net</tspan> <tspan x="619.06" textLength="99.42" lengthAdjust="spacingAndGlyphs">Earnings</tspan></text>
<text y="1271.60" style="font-weight:bold"><tspan x="46.76" textLength="39.12" lengthAdjust="spacingAndGlyphs">Per</tspan> <tspan x="92.12" textLength="66.56" lengthAdjust="spacingAndGlyphs">Share</tspan></text>
<text y="1238.80" style="font-size:29.30px;stroke:#4a4a4f;stroke-width:0.45px"><tspan x="957.79" textLength="11.54" lengthAdjust="spacingAndGlyphs">$</tspan></text>
<text y="1271.50"><tspan x="919.85" textLength="50.17" lengthAdjust="spacingAndGlyphs">66.9</tspan></text>
<text y="1272.70" style="font-size:29.30px;stroke:#4a4a4f;stroke-width:0.45px"><tspan x="998.38" textLength="11.54" lengthAdjust="spacingAndGlyphs">$</tspan></text>
<text y="1271.50"><tspan x="1135.31" textLength="50.29" lengthAdjust="spacingAndGlyphs">2.17</tspan></text>
<text y="1238.80" style="font-size:29.30px;stroke:#4a4a4f;stroke-width:0.45px"><tspan x="1390.79" textLength="11.54" lengthAdjust="spacingAndGlyphs">$</tspan></text>
<text y="1271.50"><tspan x="1352.69" textLength="50.12" lengthAdjust="spacingAndGlyphs">70.0</tspan></text>
<text y="1272.70" style="font-size:29.30px;stroke:#4a4a4f;stroke-width:0.45px"><tspan x="1431.18" textLength="11.54" lengthAdjust="spacingAndGlyphs">$</tspan></text>
<text y="1271.50"><tspan x="1568.50" textLength="49.99" lengthAdjust="spacingAndGlyphs">2.22</tspan></text>
<text y="1238.80" style="font-size:29.30px;stroke:#4a4a4f;stroke-width:0.45px"><tspan x="1823.09" textLength="11.54" lengthAdjust="spacingAndGlyphs">$</tspan></text>
<text y="1271.50"><tspan x="1785.53" textLength="49.82" lengthAdjust="spacingAndGlyphs">79.1</tspan></text>
<text y="1272.70" style="font-size:29.30px;stroke:#4a4a4f;stroke-width:0.45px"><tspan x="1863.48" textLength="11.54" lengthAdjust="spacingAndGlyphs">$</tspan></text>
<text y="1271.50"><tspan x="2000.58" textLength="50.05" lengthAdjust="spacingAndGlyphs">2.46</tspan></text>
<text y="1238.80" style="font-size:29.30px;stroke:#4a4a4f;stroke-width:0.45px"><tspan x="2255.39" textLength="11.54" lengthAdjust="spacingAndGlyphs">$</tspan></text>
<text y="1271.50"><tspan x="2217.22" textLength="50.19" lengthAdjust="spacingAndGlyphs">63.0</tspan></text>
<text y="1238.80" style="font-size:29.30px;stroke:#4a4a4f;stroke-width:0.45px"><tspan x="2472.89" textLength="11.54" lengthAdjust="spacingAndGlyphs">$</tspan></text>
<text y="1271.50"><tspan x="2435.60" textLength="49.41" lengthAdjust="spacingAndGlyphs">1.93</tspan></text>
<text y="1238.80" style="font-size:29.30px;stroke:#4a4a4f;stroke-width:0.45px"><tspan x="2687.39" textLength="11.54" lengthAdjust="spacingAndGlyphs">$</tspan></text>
<text y="1271.50"><tspan x="2650.55" textLength="48.91" lengthAdjust="spacingAndGlyphs">36.5</tspan></text>
<text y="1272.70" style="font-size:29.30px;stroke:#4a4a4f;stroke-width:0.45px"><tspan x="2725.58" textLength="11.54" lengthAdjust="spacingAndGlyphs">$</tspan></text>
<text y="1271.50"><tspan x="2863.33" textLength="49.45" lengthAdjust="spacingAndGlyphs">1.12</tspan></text>
<rect x="774.00" y="1278.00" width="197.60" height="2.00" fill="#222222"/>
<rect x="991.20" y="1278.00" width="197.90" height="2.00" fill="#222222"/>
<rect x="1206.60" y="1278.00" width="198.00" height="2.00" fill="#222222"/>
<rect x="1424.00" y="1278.00" width="198.00" height="2.00" fill="#222222"/>
<rect x="1639.00" y="1278.00" width="197.90" height="2.00" fill="#222222"/>
<rect x="1856.30" y="1278.00" width="198.00" height="2.00" fill="#222222"/>
<rect x="2071.70" y="1278.00" width="197.50" height="2.00" fill="#222222"/>
<rect x="2289.20" y="1278.00" width="197.50" height="2.00" fill="#222222"/>
<rect x="2503.60" y="1278.00" width="197.60" height="2.00" fill="#222222"/>
<rect x="2718.40" y="1278.00" width="197.90" height="2.00" fill="#222222"/>
<text y="1344.30"><tspan x="71.25" textLength="41.42" lengthAdjust="spacingAndGlyphs">Net</tspan> <tspan x="119.63" textLength="55.53" lengthAdjust="spacingAndGlyphs">sales</tspan></text>
<text y="1348.30" style="font-size:29.30px;stroke:#4a4a4f;stroke-width:0.45px"><tspan x="786.08" textLength="11.54" lengthAdjust="spacingAndGlyphs">$</tspan></text>
<text y="1347.10"><tspan x="904.06" textLength="63.85" lengthAdjust="spacingAndGlyphs">515.8</tspan></text>
<text y="1348.30" style="font-size:29.30px;stroke:#4a4a4f;stroke-width:0.45px"><tspan x="1218.68" textLength="11.54" lengthAdjust="spacingAndGlyphs">$</tspan></text>
<text y="1347.10"><tspan x="1336.40" textLength="64.15" lengthAdjust="spacingAndGlyphs">550.4</tspan></text>
<text y="1348.30" style="font-size:29.30px;stroke:#4a4a4f;stroke-width:0.45px"><tspan x="1651.08" textLength="11.54" lengthAdjust="spacingAndGlyphs">$</tspan></text>
<text y="1347.10"><tspan x="1769.19" textLength="64.12" lengthAdjust="spacingAndGlyphs">586.9</tspan></text>
<text y="1348.30" style="font-size:29.30px;stroke:#4a4a4f;stroke-width:0.45px"><tspan x="2083.78" textLength="11.54" lengthAdjust="spacingAndGlyphs">$</tspan></text>
<text y="1347.10"><tspan x="2201.49" textLength="64.12" lengthAdjust="spacingAndGlyphs">512.9</tspan></text>
<text y="1348.30" style="font-size:29.30px;stroke:#4a4a4f;stroke-width:0.45px"><tspan x="2515.68" textLength="11.54" lengthAdjust="spacingAndGlyphs">$</tspan></text>
<text y="1347.10"><tspan x="2633.44" textLength="64.22" lengthAdjust="spacingAndGlyphs">424.1</tspan></text>
<rect x="774.00" y="1391.00" width="197.60" height="2.00" fill="#222222"/>
<rect x="774.00" y="1429.20" width="197.60" height="2.00" fill="#222222"/>
<rect x="774.00" y="1466.60" width="197.60" height="2.00" fill="#222222"/>
<rect x="774.00" y="1504.50" width="197.60" height="2.00" fill="#222222"/>
<rect x="1206.60" y="1391.00" width="198.00" height="2.00" fill="#222222"/>
<rect x="1206.60" y="1429.20" width="198.00" height="2.00" fill="#222222"/>
<rect x="1206.60" y="1466.60" width="198.00" height="2.00" fill="#222222"/>
<rect x="1206.60" y="1504.50" width="198.00" height="2.00" fill="#222222"/>
<rect x="1639.00" y="1391.00" width="197.90" height="2.00" fill="#222222"/>
<rect x="1639.00" y="1429.20" width="197.90" height="2.00" fill="#222222"/>
<rect x="1639.00" y="1466.60" width="197.90" height="2.00" fill="#222222"/>
<rect x="1639.00" y="1504.50" width="197.90" height="2.00" fill="#222222"/>
<rect x="2071.70" y="1391.00" width="197.50" height="2.00" fill="#222222"/>
<rect x="2071.70" y="1429.20" width="197.50" height="2.00" fill="#222222"/>
<rect x="2071.70" y="1466.60" width="197.50" height="2.00" fill="#222222"/>
<rect x="2071.70" y="1504.50" width="197.50" height="2.00" fill="#222222"/>
<rect x="2503.60" y="1391.00" width="197.60" height="2.00" fill="#222222"/>
<rect x="2503.60" y="1429.20" width="197.60" height="2.00" fill="#222222"/>
<rect x="2503.60" y="1466.60" width="197.60" height="2.00" fill="#222222"/>
<rect x="2503.60" y="1504.50" width="197.60" height="2.00" fill="#222222"/>
<text y="1421.80" style="font-weight:bold"><tspan x="46.71" textLength="42.43" lengthAdjust="spacingAndGlyphs">Net</tspan> <tspan x="95.52" textLength="100.03" lengthAdjust="spacingAndGlyphs">earnings</tspan> <tspan x="202.22" textLength="60.83" lengthAdjust="spacingAndGlyphs">(loss)</tspan> <tspan x="270.33" textLength="24.97" lengthAdjust="spacingAndGlyphs">as</tspan> <tspan x="301.82" textLength="11.92" lengthAdjust="spacingAndGlyphs">a</tspan> <tspan x="321.82" textLength="20.27" lengthAdjust="spacingAndGlyphs">%</tspan> <tspan x="348.41" textLength="24.02" lengthAdjust="spacingAndGlyphs">of</tspan> <tspan x="378.92" textLength="38.91" lengthAdjust="spacingAndGlyphs">net</tspan> <tspan x="424.18" textLength="57.73" lengthAdjust="spacingAndGlyphs">sales</tspan></text>
<text y="1422.20" style="font-weight:bold"><tspan x="899.84" textLength="70.42" lengthAdjust="spacingAndGlyphs">11.3%</tspan></text>
<text y="1422.20" style="font-weight:bold"><tspan x="1332.84" textLength="70.42" lengthAdjust="spacingAndGlyphs">11.0%</tspan></text>
<text y="1422.20" style="font-weight:bold"><tspan x="1765.14" textLength="70.42" lengthAdjust="spacingAndGlyphs">10.2%</tspan></text>
<text y="1422.20" style="font-weight:bold"><tspan x="2202.63" textLength="65.23" lengthAdjust="spacingAndGlyphs">-8.2%</tspan></text>
<text y="1422.20" style="font-weight:bold"><tspan x="2643.43" textLength="56.42" lengthAdjust="spacingAndGlyphs">8.2%</tspan></text>
<text y="1497.50" style="font-weight:bold"><tspan x="46.24" textLength="105.10" lengthAdjust="spacingAndGlyphs">Adjusted</tspan> <tspan x="157.78" textLength="38.91" lengthAdjust="spacingAndGlyphs">net</tspan> <tspan x="203.08" textLength="100.03" lengthAdjust="spacingAndGlyphs">earnings</tspan> <tspan x="309.54" textLength="24.97" lengthAdjust="spacingAndGlyphs">as</tspan> <tspan x="341.03" textLength="11.92" lengthAdjust="spacingAndGlyphs">a</tspan> <tspan x="361.03" textLength="20.27" lengthAdjust="spacingAndGlyphs">%</tspan> <tspan x="387.62" textLength="24.02" lengthAdjust="spacingAndGlyphs">of</tspan> <tspan x="418.13" textLength="38.91" lengthAdjust="spacingAndGlyphs">net</tspan> <tspan x="463.39" textLength="57.73" lengthAdjust="spacingAndGlyphs">sales</tspan></text>
<text y="1497.80" style="font-weight:bold"><tspan x="899.84" textLength="70.42" lengthAdjust="spacingAndGlyphs">13.0%</tspan></text>
<text y="1497.80" style="font-weight:bold"><tspan x="1332.84" textLength="70.42" lengthAdjust="spacingAndGlyphs">12.7%</tspan></text>
<text y="1497.80" style="font-weight:bold"><tspan x="1765.14" textLength="70.42" lengthAdjust="spacingAndGlyphs">13.5%</tspan></text>
<text y="1497.80" style="font-weight:bold"><tspan x="2197.44" textLength="70.42" lengthAdjust="spacingAndGlyphs">12.3%</tspan></text>
<text y="1497.80" style="font-weight:bold"><tspan x="2643.43" textLength="56.42" lengthAdjust="spacingAndGlyphs">8.6%</tspan></text>
<text y="81.90" style="font-size:69.00px;fill:#0b4283"><tspan x="23.69" textLength="327.06" lengthAdjust="spacingAndGlyphs">Regulation</tspan> <tspan x="367.52" textLength="48.31" lengthAdjust="spacingAndGlyphs">G</tspan> <tspan x="431.09" textLength="306.18" lengthAdjust="spacingAndGlyphs">Schedules</tspan></text>
<text y="182.40" style="font-size:52.00px;fill:#0b4283"><tspan x="47.40" textLength="202.58" lengthAdjust="spacingAndGlyphs">Adjusted</tspan> <tspan x="262.97" textLength="82.76" lengthAdjust="spacingAndGlyphs">Net</tspan> <tspan x="358.97" textLength="194.26" lengthAdjust="spacingAndGlyphs">Earnings</tspan> <tspan x="566.19" textLength="85.17" lengthAdjust="spacingAndGlyphs">and</tspan> <tspan x="664.84" textLength="202.58" lengthAdjust="spacingAndGlyphs">Adjusted</tspan> <tspan x="880.15" textLength="166.25" lengthAdjust="spacingAndGlyphs">Diluted</tspan> <tspan x="1059.56" textLength="194.26" lengthAdjust="spacingAndGlyphs">Earnings</tspan> <tspan x="1266.65" textLength="76.28" lengthAdjust="spacingAndGlyphs">Per</tspan> <tspan x="1355.21" textLength="130.67" lengthAdjust="spacingAndGlyphs">Share</tspan></text>
<text y="221.80" style="font-size:26.00px;fill:#6a6a6a"><tspan x="46.76" textLength="20.71" lengthAdjust="spacingAndGlyphs">($</tspan> <tspan x="75.13" textLength="97.21" lengthAdjust="spacingAndGlyphs">Millions,</tspan> <tspan x="178.00" textLength="75.40" lengthAdjust="spacingAndGlyphs">except</tspan> <tspan x="260.31" textLength="138.91" lengthAdjust="spacingAndGlyphs">percentages</tspan> <tspan x="405.62" textLength="42.28" lengthAdjust="spacingAndGlyphs">and</tspan> <tspan x="454.77" textLength="37.93" lengthAdjust="spacingAndGlyphs">per</tspan> <tspan x="499.37" textLength="62.38" lengthAdjust="spacingAndGlyphs">share</tspan> <tspan x="568.00" textLength="107.91" lengthAdjust="spacingAndGlyphs">amounts)</tspan></text>
<text y="1563.00" style="font-style:italic;font-size:29.00px"><tspan x="320.52" textLength="77.66" lengthAdjust="spacingAndGlyphs">NOTE:</tspan> <tspan x="406.07" textLength="45.67" lengthAdjust="spacingAndGlyphs">CTS</tspan> <tspan x="459.38" textLength="100.24" lengthAdjust="spacingAndGlyphs">believes</tspan> <tspan x="566.37" textLength="51.82" lengthAdjust="spacingAndGlyphs">that</tspan> <tspan x="626.37" textLength="107.52" lengthAdjust="spacingAndGlyphs">adjusted</tspan> <tspan x="741.67" textLength="67.54" lengthAdjust="spacingAndGlyphs">gross</tspan> <tspan x="816.66" textLength="98.22" lengthAdjust="spacingAndGlyphs">margin,</tspan> <tspan x="921.28" textLength="107.52" lengthAdjust="spacingAndGlyphs">adjusted</tspan> <tspan x="1036.91" textLength="123.04" lengthAdjust="spacingAndGlyphs">operating</tspan> <tspan x="1167.03" textLength="117.20" lengthAdjust="spacingAndGlyphs">earnings,</tspan> <tspan x="1290.74" textLength="107.52" lengthAdjust="spacingAndGlyphs">adjusted</tspan> <tspan x="1407.07" textLength="92.22" lengthAdjust="spacingAndGlyphs">EBITDA</tspan> <tspan x="1506.45" textLength="98.22" lengthAdjust="spacingAndGlyphs">margin,</tspan> <tspan x="1611.08" textLength="107.52" lengthAdjust="spacingAndGlyphs">adjusted</tspan> <tspan x="1727.44" textLength="39.71" lengthAdjust="spacingAndGlyphs">net</tspan> <tspan x="1775.06" textLength="109.09" lengthAdjust="spacingAndGlyphs">earnings</tspan> <tspan x="1891.03" textLength="46.69" lengthAdjust="spacingAndGlyphs">and</tspan> <tspan x="1946.04" textLength="107.52" lengthAdjust="spacingAndGlyphs">adjusted</tspan> <tspan x="2061.58" textLength="86.53" lengthAdjust="spacingAndGlyphs">diluted</tspan> <tspan x="2156.30" textLength="109.09" lengthAdjust="spacingAndGlyphs">earnings</tspan> <tspan x="2273.33" textLength="39.68" lengthAdjust="spacingAndGlyphs">per</tspan> <tspan x="2320.81" textLength="69.69" lengthAdjust="spacingAndGlyphs">share</tspan> <tspan x="2398.56" textLength="93.48" lengthAdjust="spacingAndGlyphs">provide</tspan> <tspan x="2499.14" textLength="74.12" lengthAdjust="spacingAndGlyphs">useful</tspan> <tspan x="2582.38" textLength="148.37" lengthAdjust="spacingAndGlyphs">information</tspan> <tspan x="2737.87" textLength="26.44" lengthAdjust="spacingAndGlyphs">to</tspan></text>
<text y="1600.20" style="font-style:italic;font-size:29.00px"><tspan x="320.85" textLength="112.37" lengthAdjust="spacingAndGlyphs">investors</tspan> <tspan x="440.58" textLength="122.46" lengthAdjust="spacingAndGlyphs">regarding</tspan> <tspan x="571.07" textLength="29.03" lengthAdjust="spacingAndGlyphs">its</tspan> <tspan x="606.73" textLength="144.86" lengthAdjust="spacingAndGlyphs">operational</tspan> <tspan x="761.06" textLength="160.87" lengthAdjust="spacingAndGlyphs">performance</tspan> <tspan x="929.60" textLength="101.95" lengthAdjust="spacingAndGlyphs">because</tspan> <tspan x="1038.51" textLength="54.33" lengthAdjust="spacingAndGlyphs">they</tspan> <tspan x="1100.54" textLength="106.76" lengthAdjust="spacingAndGlyphs">enhance</tspan> <tspan x="1214.24" textLength="31.65" lengthAdjust="spacingAndGlyphs">an</tspan> <tspan x="1254.03" textLength="120.14" lengthAdjust="spacingAndGlyphs">investor’s</tspan> <tspan x="1380.83" textLength="84.41" lengthAdjust="spacingAndGlyphs">overall</tspan> <tspan x="1473.71" textLength="182.63" lengthAdjust="spacingAndGlyphs">understanding</tspan> <tspan x="1663.36" textLength="24.55" lengthAdjust="spacingAndGlyphs">of</tspan> <tspan x="1695.94" textLength="52.37" lengthAdjust="spacingAndGlyphs">CTS’</tspan> <tspan x="1756.11" textLength="54.60" lengthAdjust="spacingAndGlyphs">core</tspan> <tspan x="1817.45" textLength="106.60" lengthAdjust="spacingAndGlyphs">financial</tspan> <tspan x="1933.52" textLength="160.87" lengthAdjust="spacingAndGlyphs">performance</tspan> <tspan x="2101.32" textLength="46.65" lengthAdjust="spacingAndGlyphs">and</tspan> <tspan x="2156.02" textLength="111.87" lengthAdjust="spacingAndGlyphs">facilitate</tspan> <tspan x="2274.59" textLength="159.64" lengthAdjust="spacingAndGlyphs">comparisons</tspan> <tspan x="2440.93" textLength="26.41" lengthAdjust="spacingAndGlyphs">to</tspan> <tspan x="2475.10" textLength="113.43" lengthAdjust="spacingAndGlyphs">historical</tspan> <tspan x="2597.41" textLength="82.85" lengthAdjust="spacingAndGlyphs">results</tspan> <tspan x="2686.91" textLength="24.55" lengthAdjust="spacingAndGlyphs">of</tspan></text>
<text y="1637.20" style="font-style:italic;font-size:29.00px"><tspan x="320.35" textLength="143.76" lengthAdjust="spacingAndGlyphs">operations,</tspan> <tspan x="471.32" textLength="28.46" lengthAdjust="spacingAndGlyphs">by</tspan> <tspan x="507.38" textLength="119.57" lengthAdjust="spacingAndGlyphs">excluding</tspan> <tspan x="635.01" textLength="68.57" lengthAdjust="spacingAndGlyphs">items</tspan> <tspan x="710.31" textLength="51.86" lengthAdjust="spacingAndGlyphs">that</tspan> <tspan x="770.34" textLength="41.67" lengthAdjust="spacingAndGlyphs">are</tspan> <tspan x="819.44" textLength="40.84" lengthAdjust="spacingAndGlyphs">not</tspan> <tspan x="868.90" textLength="88.18" lengthAdjust="spacingAndGlyphs">related</tspan> <tspan x="965.13" textLength="92.60" lengthAdjust="spacingAndGlyphs">directly</tspan> <tspan x="1065.46" textLength="26.46" lengthAdjust="spacingAndGlyphs">to</tspan> <tspan x="1098.99" textLength="41.53" lengthAdjust="spacingAndGlyphs">the</tspan> <tspan x="1147.52" textLength="133.46" lengthAdjust="spacingAndGlyphs">underlying</tspan> <tspan x="1289.35" textLength="161.16" lengthAdjust="spacingAndGlyphs">performance</tspan> <tspan x="1457.22" textLength="24.59" lengthAdjust="spacingAndGlyphs">of</tspan> <tspan x="1489.86" textLength="52.46" lengthAdjust="spacingAndGlyphs">CTS’</tspan> <tspan x="1550.06" textLength="161.50" lengthAdjust="spacingAndGlyphs">fundamental</tspan> <tspan x="1720.69" textLength="105.78" lengthAdjust="spacingAndGlyphs">business</tspan> <tspan x="1833.16" textLength="135.60" lengthAdjust="spacingAndGlyphs">operations</tspan> <tspan x="1976.69" textLength="65.08" lengthAdjust="spacingAndGlyphs">(such</tspan> <tspan x="2049.22" textLength="28.22" lengthAdjust="spacingAndGlyphs">as</tspan> <tspan x="2084.34" textLength="69.50" lengthAdjust="spacingAndGlyphs">those</tspan> <tspan x="2161.58" textLength="68.57" lengthAdjust="spacingAndGlyphs">items</tspan> <tspan x="2237.52" textLength="71.48" lengthAdjust="spacingAndGlyphs">noted</tspan> <tspan x="2317.34" textLength="76.83" lengthAdjust="spacingAndGlyphs">above</tspan> <tspan x="2401.92" textLength="22.03" lengthAdjust="spacingAndGlyphs">in</tspan> <tspan x="2431.24" textLength="41.53" lengthAdjust="spacingAndGlyphs">the</tspan> <tspan x="2480.77" textLength="132.03" lengthAdjust="spacingAndGlyphs">paragraph</tspan> <tspan x="2619.99" textLength="64.77" lengthAdjust="spacingAndGlyphs">titled</tspan> <tspan x="2694.94" textLength="72.31" lengthAdjust="spacingAndGlyphs">“Non-</tspan></text>
<text y="1674.50" style="font-style:italic;font-size:29.00px"><tspan x="320.03" textLength="71.61" lengthAdjust="spacingAndGlyphs">GAAP</tspan> <tspan x="398.97" textLength="110.90" lengthAdjust="spacingAndGlyphs">Financial</tspan> <tspan x="518.85" textLength="144.52" lengthAdjust="spacingAndGlyphs">Measures”)</tspan> <tspan x="670.52" textLength="26.00" lengthAdjust="spacingAndGlyphs">or</tspan> <tspan x="703.97" textLength="63.09" lengthAdjust="spacingAndGlyphs">were</tspan> <tspan x="774.46" textLength="40.77" lengthAdjust="spacingAndGlyphs">not</tspan> <tspan x="824.46" textLength="50.82" lengthAdjust="spacingAndGlyphs">part</tspan> <tspan x="883.16" textLength="24.55" lengthAdjust="spacingAndGlyphs">of</tspan> <tspan x="915.74" textLength="52.37" lengthAdjust="spacingAndGlyphs">CTS’</tspan> <tspan x="976.81" textLength="105.60" lengthAdjust="spacingAndGlyphs">business</tspan> <tspan x="1089.10" textLength="135.37" lengthAdjust="spacingAndGlyphs">operations</tspan> <tspan x="1231.01" textLength="81.81" lengthAdjust="spacingAndGlyphs">during</tspan> <tspan x="1320.07" textLength="15.44" lengthAdjust="spacingAndGlyphs">a</tspan> <tspan x="1342.90" textLength="150.30" lengthAdjust="spacingAndGlyphs">comparable</tspan> <tspan x="1501.23" textLength="88.00" lengthAdjust="spacingAndGlyphs">period.</tspan></text>
<text y="1663.00" style="font-size:29.00px"><tspan x="2953.74" textLength="31.60" lengthAdjust="spacingAndGlyphs">18</tspan></text>

<g aria-label="CTS">
  <text x="14.46" y="1666.6" style="font-weight:bold;font-size:123.9px;fill:#0a4282">c</text>
  <text x="119.97" y="1666.6" textLength="57.3" lengthAdjust="spacingAndGlyphs" style="font-weight:bold;font-size:123.9px;fill:#0a4282">s</text>
  <rect x="86.3" y="1579.5" width="15.8" height="18.6" fill="#8cd600"/>
  <rect x="102.5" y="1599.0" width="18.9" height="14.9" fill="#ff8200"/>
</g>
</svg>
<div style="position:absolute;left:86.3px;top:1614.8px;width:32.5px;height:51.7px;box-sizing:border-box;border-left:15.4px solid #0a4282;border-bottom:13.2px solid #0a4282;border-bottom-left-radius:27px 25px;"></div>
</body></html>
